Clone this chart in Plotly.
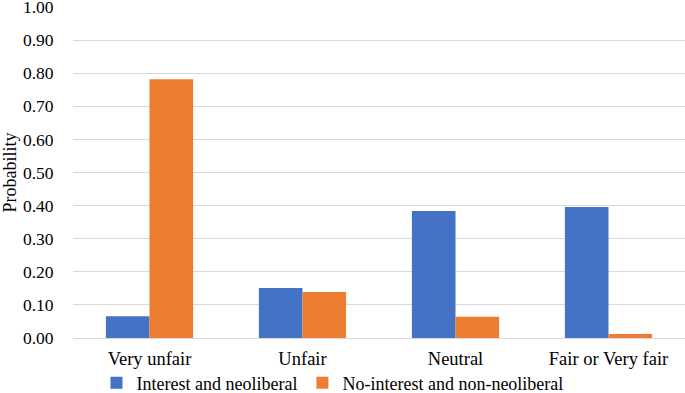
import plotly.graph_objects as go

categories = ["Very unfair", "Unfair", "Neutral", "Fair or Very fair"]
interest_neoliberal = [0.066, 0.151, 0.384, 0.396]
nointerest_nonneoliberal = [0.782, 0.139, 0.064, 0.012]
y_ticks = [0.0, 0.1, 0.2, 0.3, 0.4, 0.5, 0.6, 0.7, 0.8, 0.9, 1.0]
y_tick_labels = ["0.00", "0.10", "0.20", "0.30", "0.40", "0.50", "0.60", "0.70", "0.80", "0.90", "1.00"]

ff = "Liberation Serif, Times New Roman, serif"

fig = go.Figure()
fig.add_trace(go.Bar(x=categories, y=interest_neoliberal, name="Interest and neoliberal",
                     marker=dict(color="#4472C4", line=dict(width=0))))
fig.add_trace(go.Bar(x=categories, y=nointerest_nonneoliberal, name="No-interest and non-neoliberal",
                     marker=dict(color="#ED7D31", line=dict(width=0))))

fig.update_layout(
    width=685, height=393,
    margin=dict(l=73, r=0, t=7, b=55, autoexpand=False),
    paper_bgcolor="white", plot_bgcolor="white",
    barmode="group", bargap=0.43, bargroupgap=0,
    font=dict(family=ff, size=18, color="black"),
    showlegend=True,
    legend=dict(orientation="h", x=0.424, xanchor="center", y=-0.136, yanchor="middle",
                font=dict(family=ff, size=18, color="black"), itemsizing="constant",
                itemwidth=30, traceorder="normal", bgcolor="rgba(0,0,0,0)"),
    xaxis=dict(showgrid=False, showline=False, automargin=False,
               ticks="outside", ticklen=4, tickcolor="rgba(0,0,0,0)",
               tickfont=dict(family=ff, size=18.5, color="black")),
    yaxis=dict(range=[0, 1.0], tickvals=y_ticks, ticktext=y_tick_labels, automargin=False,
               showgrid=True, gridcolor="#d9d9d9", gridwidth=1,
               zeroline=True, zerolinecolor="#d9d9d9", zerolinewidth=1,
               showline=False, ticks="outside", ticklen=15, tickcolor="rgba(0,0,0,0)",
               ticklabeloverflow="allow",
               tickfont=dict(family=ff, size=17.5, color="black"),
               title=dict(text="Probability", font=dict(family=ff, size=18, color="black"), standoff=6)),
)

fig.write_html("out.html", config={"displayModeBar": False},
               post_script="document.body.style.margin='0';document.body.style.padding='0';")
